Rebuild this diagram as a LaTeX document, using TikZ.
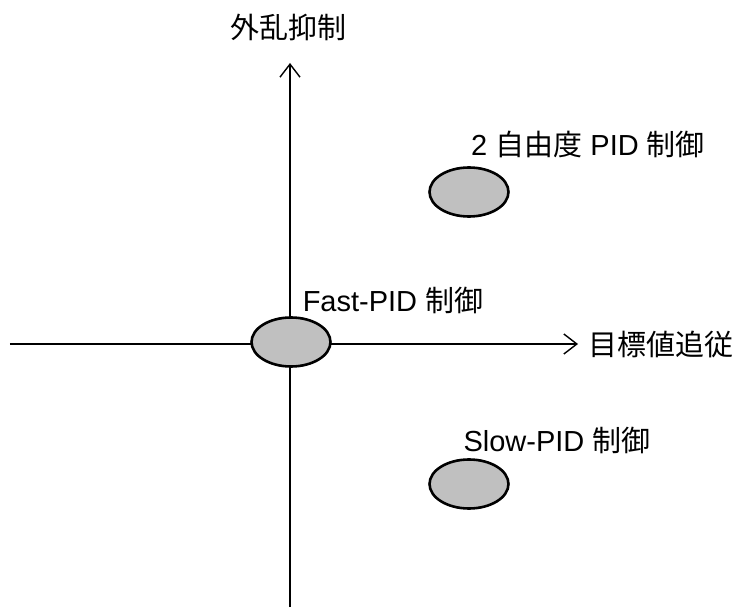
\documentclass[tikz,border=0pt]{standalone}
\usepackage{fontspec}
\setmainfont{Liberation Sans}
\newfontfamily\jpfont{Noto Sans CJK JP}
\usetikzlibrary{arrows.meta,shapes.geometric}
\definecolor{clrFill}{RGB}{192,192,192}
\tikzset{
  axis/.style={line width=1.4pt,-{Straight Barb[length=13pt,width=20pt,line width=1.4pt]}},
  method/.style={ellipse,draw=black,line width=2.6pt,fill=clrFill,
    minimum width=79pt,minimum height=49pt,inner sep=0pt},
  lbl/.style={font=\fontsize{29}{34}\selectfont,inner sep=0pt}
}

\begin{document}
\begin{tikzpicture}[x=1pt,y=1pt]
  \useasboundingbox (-290,-266) rectangle (443,344);

  \coordinate (ybot) at (0,-263);
  \coordinate (ytop) at (0,281);
  \coordinate (xleft) at (-280,0);
  \coordinate (xright) at (288,0);

  \draw[axis] (ybot) -- (ytop);
  \draw[axis] (xleft) -- (xright);

  \node[method] (fast) at (1,2) {};
  \node[method] (twodof) at (179,152) {};
  \node[method] (slow) at (179,-140) {};

  \node[lbl] (ylabel) at (-1.5,317) {\jpfont 外乱抑制};
  \node[lbl,anchor=west] (xlabel) at (298,0) {\jpfont 目標値追従};
  \node[lbl] (twodoflabel) at (298,200) {2 {\jpfont 自由度} PID {\jpfont 制御}};
  \node[lbl] (fastlabel) at (103,44) {Fast-PID {\jpfont 制御}};
  \node[lbl] (slowlabel) at (267,-96) {Slow-PID {\jpfont 制御}};
\end{tikzpicture}
\end{document}
